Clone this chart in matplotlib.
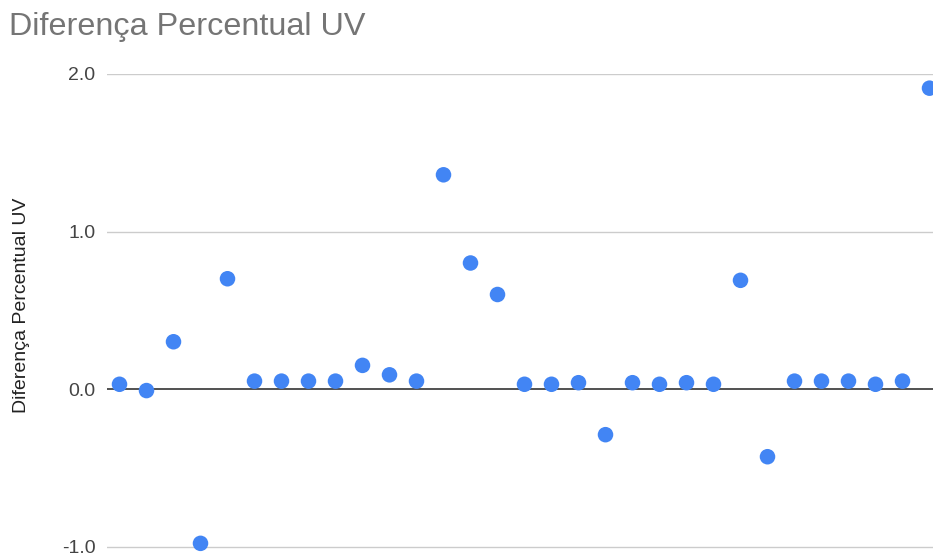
import matplotlib
matplotlib.use("Agg")
import matplotlib.pyplot as plt

plt.rcParams['font.family'] = ['Liberation Sans', 'DejaVu Sans']

x_index = list(range(1, 32))
diff_uv = [0.03, -0.01, 0.30, -0.98, 0.70, 0.05, 0.05, 0.05, 0.05, 0.15,
           0.09, 0.05, 1.36, 0.80, 0.60, 0.03, 0.03, 0.04, -0.29, 0.04,
           0.03, 0.04, 0.03, 0.69, -0.43, 0.05, 0.05, 0.05, 0.03, 0.05, 1.91]
y_ticks = [-1.0, 0.0, 1.0, 2.0]
y_tick_labels = ["-1.0", "0.0", "1.0", "2.0"]

W, H = 933, 558
fig = plt.figure(figsize=(W/100, H/100), dpi=100)

ymin, ymax = -1.1, 2.0
ppu = (389 - 74) / 2.0
top_px = 74
bottom_px = 389 + (-ymin) * ppu
xmin, xmax = 0.52, 32.0
xppu = 27.0
left_px = 119.5 - (1 - xmin) * xppu
right_px = left_px + (xmax - xmin) * xppu

ax = fig.add_axes([left_px / W, 1 - bottom_px / H,
                   (right_px - left_px) / W, (bottom_px - top_px) / H])
ax.set_xlim(xmin, xmax)
ax.set_ylim(ymin, ymax)

for s in ax.spines.values():
    s.set_visible(False)
ax.set_xticks([])
ax.set_yticks(y_ticks)
ax.set_yticklabels(y_tick_labels, fontsize=14, color='#444444')
ax.tick_params(axis='y', length=0, pad=8)
for yv in y_ticks:
    if yv == 0:
        ax.axhline(yv, color='#333333', lw=1.2, zorder=1)
    else:
        ax.axhline(yv, color='#cccccc', lw=1.0, zorder=1)

ax.scatter(x_index, diff_uv, s=125, color='#4285F4', zorder=3,
           edgecolors='none', clip_on=False)

ax.set_ylabel("Diferença Percentual UV", fontsize=14, color='#222222')
ax.yaxis.set_label_coords((30 - left_px) / (right_px - left_px),
                          (bottom_px - 305.5) / (bottom_px - top_px))
fig.text(9 / W, 1 - 27 / H, "Diferença Percentual UV", fontsize=23.3,
         color='#757575', va='center', ha='left')

fig.savefig("out.png", dpi=100)
